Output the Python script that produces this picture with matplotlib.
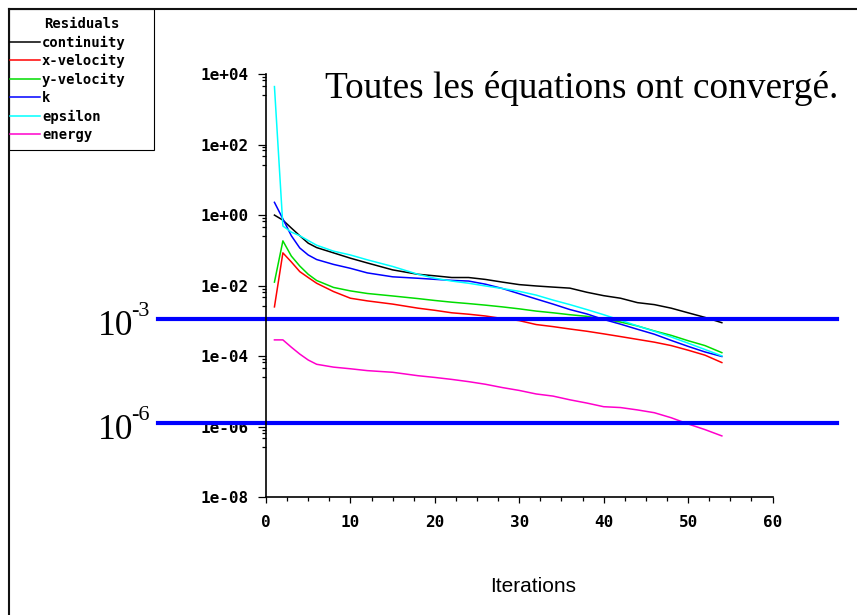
import numpy as np
import matplotlib
matplotlib.use('Agg')
import matplotlib.pyplot as plt
from matplotlib.lines import Line2D
from matplotlib.patches import Rectangle
from matplotlib.font_manager import FontProperties
from matplotlib.ticker import FixedLocator, FuncFormatter, MultipleLocator

# residuals (log scale)
iterations = [1, 2, 3, 4, 5, 6, 8, 10, 12, 15, 18, 20, 22, 24, 26, 28, 30,
              32, 34, 36, 38, 40, 42, 44, 46, 48, 50, 52, 54]
continuity = [1.0, 0.72, 0.43, 0.26, 0.16, 0.12, 0.085, 0.060, 0.044, 0.028,
              0.021, 0.019, 0.017, 0.017, 0.015, 0.0126, 0.0107, 0.0098,
              0.0091, 0.0085, 0.0065, 0.0052, 0.0044, 0.0033, 0.0029,
              0.0023, 0.0017, 0.00126, 0.00089]
x_velocity = [0.0025, 0.085, 0.047, 0.025, 0.017, 0.0117, 0.0068, 0.0044,
              0.0037, 0.0030, 0.0023, 0.0020, 0.0017, 0.00155, 0.00138,
              0.00117, 0.00102, 0.00079, 0.00069, 0.00059, 0.00051, 0.00043,
              0.00036, 0.00030, 0.00025, 0.00020, 0.000148, 0.000107, 0.000066]
y_velocity = [0.0126, 0.186, 0.069, 0.036, 0.021, 0.014, 0.0089, 0.0071,
              0.0060, 0.0051, 0.0043, 0.0038, 0.0034, 0.0031, 0.0028, 0.0025,
              0.0022, 0.0019, 0.0017, 0.0015, 0.00135, 0.00112, 0.00093,
              0.00072, 0.00052, 0.00039, 0.000275, 0.00020, 0.000126]
k_res = [2.3, 0.78, 0.26, 0.117, 0.074, 0.055, 0.040, 0.031, 0.023, 0.0178,
         0.0162, 0.0151, 0.0141, 0.0135, 0.011, 0.0083, 0.0059, 0.0042,
         0.0030, 0.0021, 0.00158, 0.0011, 0.00081, 0.00058, 0.00042,
         0.00028, 0.00019, 0.000132, 0.000098]
epsilon = [4400, 0.49, 0.33, 0.26, 0.19, 0.14, 0.095, 0.074, 0.054, 0.035,
           0.021, 0.0162, 0.0135, 0.0117, 0.0098, 0.0083, 0.0069, 0.0054,
           0.0039, 0.0029, 0.0021, 0.0015, 0.00105, 0.00072, 0.00051,
           0.00035, 0.000234, 0.000155, 0.000102]
energy = [2.9e-4, 2.9e-4, 1.8e-4, 1.15e-4, 7.8e-5, 5.9e-5, 4.9e-5, 4.4e-5,
          3.9e-5, 3.5e-5, 2.8e-5, 2.5e-5, 2.2e-5, 1.9e-5, 1.6e-5, 1.29e-5,
          1.07e-5, 8.5e-6, 7.4e-6, 5.8e-6, 4.7e-6, 3.7e-6, 3.5e-6, 3.0e-6,
          2.5e-6, 1.8e-6, 1.2e-6, 8.3e-7, 5.5e-7]

series_names = ['continuity', 'x-velocity', 'y-velocity', 'k', 'epsilon', 'energy']
series_colors = ['black', '#ff0000', '#00dd00', '#0000ff', '#00ffff', '#ff00cc']
thresholds = [1.15e-3, 1.3e-6]
threshold_labels = ['-3', '-6']
title_text = 'Toutes les équations ont convergé.'

W, H = 857, 615
def fx(px): return px / W
def fy(py): return 1 - py / H

fig = plt.figure(figsize=(W / 100, H / 100), dpi=100)
fig.patch.set_facecolor('white')
ax = fig.add_axes([fx(266), fy(497.3), (772.5 - 266) / W, (497.3 - 74) / H])

all_series = [continuity, x_velocity, y_velocity, k_res, epsilon, energy]
for vals, name, col in zip(all_series, series_names, series_colors):
    ax.plot(iterations, vals, color=col, lw=1.1, label=name)

ax.set_yscale('log')
ax.set_xlim(0, 60)
ax.set_ylim(1e-8, 1e4)

for sp in ['top', 'right']:
    ax.spines[sp].set_visible(False)
for sp in ['left', 'bottom']:
    ax.spines[sp].set_linewidth(1.2)

mono = FontProperties(family='DejaVu Sans Mono', weight='bold', size=11.5)
majors = [10.0 ** e for e in range(-8, 5, 2)]
minors = [m * f for m in majors[1:] for f in (0.83, 0.68, 0.47, 0.26)]
ax.yaxis.set_major_locator(FixedLocator(majors))
ax.yaxis.set_minor_locator(FixedLocator(minors))
ax.yaxis.set_major_formatter(FuncFormatter(lambda v, p: f'{v:.0e}'))
ax.yaxis.set_minor_formatter(FuncFormatter(lambda v, p: ''))
ax.xaxis.set_major_locator(MultipleLocator(10))
ax.xaxis.set_minor_locator(MultipleLocator(2.5))
ax.tick_params(axis='y', which='major', direction='out', length=5.8, width=0.9, pad=7)
ax.tick_params(axis='y', which='minor', direction='out', length=3, width=0.9)
ax.tick_params(axis='x', which='major', direction='out', length=4.3, width=0.9, pad=8.5)
ax.tick_params(axis='x', which='minor', direction='out', length=2.9, width=0.9)
for lab in ax.get_xticklabels() + ax.get_yticklabels():
    lab.set_fontproperties(mono)

ax.set_xlabel('Iterations', family='Liberation Sans', fontsize=15)
ax.xaxis.set_label_coords((533 - 266) / 506.5, (497.3 - 577) / 423.3)

# threshold lines drawn across the whole screenshot
for lev, sup in zip(thresholds, threshold_labels):
    ax.axhline(lev, xmin=(158 - 266) / 506.5, xmax=(837 - 266) / 506.5,
               color='#0000ff', lw=3, clip_on=False)
    ypx = 215.1 - 35.28 * np.log10(lev)
    fig.text(fx(98), fy(ypx + 16), '10', family='Liberation Serif',
             fontsize=25.5, va='baseline', ha='left')
    fig.text(fx(131), fy(ypx - 2.5), sup, family='Liberation Serif',
             fontsize=16, va='baseline', ha='left')

fig.text(fx(325), fy(98), title_text, family='Liberation Serif',
         fontsize=26.8, va='baseline', ha='left')

# legend box of the residual monitor
fig.add_artist(Rectangle((fx(9), fy(150)), (154 - 9) / W, (150 - 9) / H,
                         transform=fig.transFigure, fill=False,
                         ec='black', lw=0.8))
leg_font = dict(family='DejaVu Sans Mono', weight='bold', size=10)
leg = fig.legend(loc='upper left', mode='expand',
                 bbox_to_anchor=(fx(10), fy(140), (153 - 10) / W, (140 - 17) / H),
                 borderaxespad=0, borderpad=0, handlelength=2.15,
                 handletextpad=0.15, labelspacing=0.32, frameon=False,
                 title='Residuals', prop=leg_font,
                 title_fontproperties=leg_font)

# screenshot border (top and left edges)
fig.add_artist(Line2D([fx(9), 1], [fy(9), fy(9)], transform=fig.transFigure,
                      color='#111111', lw=1.5))
fig.add_artist(Line2D([fx(9), fx(9)], [fy(9), 0], transform=fig.transFigure,
                      color='#111111', lw=1.5))

fig.savefig('out.png', dpi=100)
